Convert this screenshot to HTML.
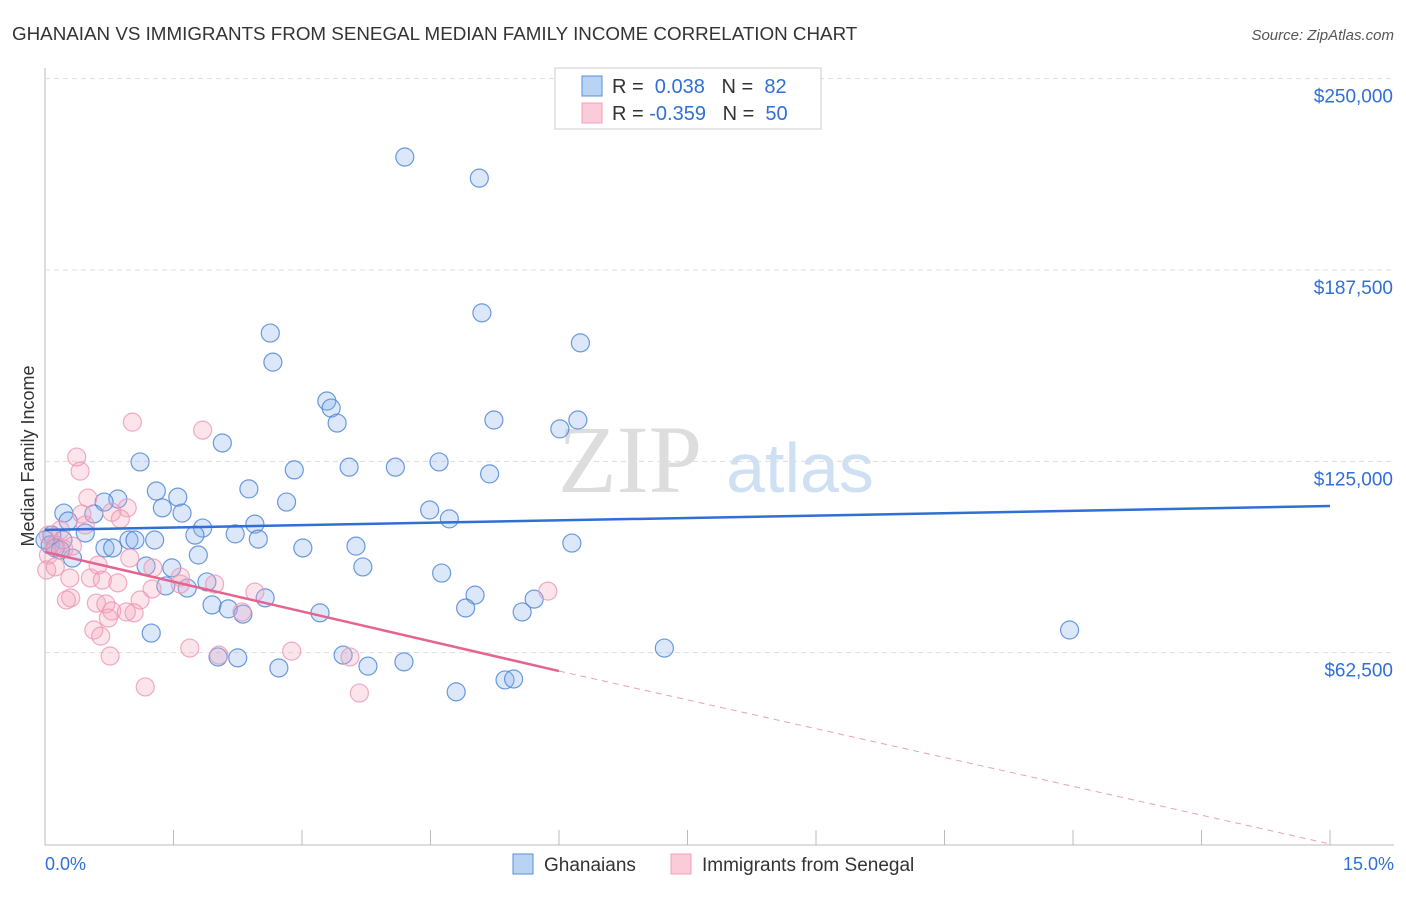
<!DOCTYPE html>
<html><head><meta charset="utf-8"><style>
body{margin:0;background:#fff;font-family:"Liberation Sans",sans-serif}
</style></head><body>
<svg width="1406" height="892" xmlns="http://www.w3.org/2000/svg" id="svg">
<text x="12" y="40" font-size="18.8" fill="#333">GHANAIAN VS IMMIGRANTS FROM SENEGAL MEDIAN FAMILY INCOME CORRELATION CHART</text>
<text x="1394" y="40" font-size="15" fill="#555" font-style="italic" text-anchor="end">Source: ZipAtlas.com</text>
<text x="630" y="492" font-size="96" fill="#ddd" font-family="Liberation Serif" text-anchor="middle">ZIP</text>
<text x="800" y="492" font-size="70" fill="#cfe0f3" text-anchor="middle">atlas</text>
<text x="34" y="456" font-size="18" fill="#333" transform="rotate(-90 34 456)" text-anchor="middle">Median Family Income</text>
<g id="grid"></g><g id="pts"></g><g id="lines"></g>
<g>
<rect x="555" y="68" width="266" height="61" fill="#fff" stroke="#ccc"/>
<rect x="582" y="76" width="20" height="20" fill="#b9d3f5" stroke="#5a8fd8"/>
<rect x="582" y="103" width="20" height="20" fill="#fbcbd9" stroke="#f0a0b8"/>
<text x="612" y="93" font-size="20" fill="#333">R = <tspan fill="#2f6fd6">&#160;0.038</tspan>&#160;&#160;&#160;N = <tspan fill="#2f6fd6">&#160;82</tspan></text>
<text x="612" y="120" font-size="20" fill="#333">R = <tspan fill="#2f6fd6">-0.359</tspan>&#160;&#160;&#160;N = <tspan fill="#2f6fd6">&#160;50</tspan></text>
</g>
<g>
<rect x="513" y="854" width="20" height="20" fill="#b9d3f5" stroke="#5a8fd8"/>
<text x="544" y="871" font-size="19" fill="#333">Ghanaians</text>
<rect x="671" y="854" width="20" height="20" fill="#fbcbd9" stroke="#f0a0b8"/>
<text x="702" y="871" font-size="19" fill="#333">Immigrants from Senegal</text>
</g>
<text x="45" y="870" font-size="18" fill="#2f6fd6">0.0%</text>
<text x="1394" y="870" font-size="18" fill="#2f6fd6" text-anchor="end">15.0%</text>
</svg>
<script>
const yTicks=[62500,125000,187500,250000];
const yTickLabels=["$62,500","$125,000","$187,500","$250,000"];
const blueX=[4.20,5.07,5.10,6.25,2.63,2.66,3.29,3.34,3.41,5.24,6.22,6.01,2.07,1.11,2.91,3.55,4.09,4.60,5.19,1.30,1.55,2.38,0.85,0.69,2.82,1.37,1.60,0.22,0.57,0.27,4.49,4.72,2.45,1.84,2.22,1.75,2.49,0.47,0.98,1.05,1.28,0.21,0.70,0.79,0.32,3.01,3.63,6.15,1.79,1.18,1.48,3.71,4.63,1.89,1.41,1.66,2.57,5.02,5.71,1.95,2.14,2.31,3.21,4.91,5.57,11.96,1.24,7.23,2.02,2.25,3.48,3.77,4.19,2.73,4.80,5.37,5.47,0.08,0.06,0.12,0.18,0.0];
const blueY=[224.4,217.5,173.5,163.7,166.9,157.4,144.7,142.4,137.5,138.5,138.5,135.6,131.0,124.8,122.2,123.1,123.1,124.8,120.9,115.3,113.3,116.0,112.7,111.7,111.7,109.8,108.1,108.1,107.8,105.5,109.1,106.2,104.5,103.2,101.3,100.9,99.6,101.6,99.3,99.3,99.3,99.3,96.7,96.7,93.4,96.7,97.3,98.3,94.4,90.8,90.2,90.5,88.5,85.6,84.3,83.6,80.4,81.3,80.0,78.1,76.8,75.1,75.5,77.1,75.8,69.9,68.9,64.0,61.1,60.8,61.7,58.1,59.5,57.5,49.7,53.6,53.9,100.9,97.7,96.7,96.0,99.3];
const pinkX=[1.02,1.84,0.37,0.41,0.50,0.96,0.78,0.43,0.88,0.47,0.18,0.04,0.12,0.22,0.32,0.04,0.02,0.12,0.29,0.53,0.62,0.67,0.85,0.99,1.26,1.25,1.58,1.98,2.45,0.30,0.25,0.60,0.71,1.11,0.78,0.95,1.04,0.74,0.57,0.65,2.30,1.69,2.03,2.88,3.56,0.76,1.17,3.67,5.87,1.58];
const pinkY=[137.8,135.2,126.4,121.8,113.0,109.8,108.4,107.8,106.2,104.2,102.6,100.9,97.7,96.4,97.3,94.4,89.5,90.5,86.9,86.9,91.1,86.2,85.3,93.4,90.2,83.3,84.9,84.9,82.3,80.4,79.7,78.7,78.4,79.7,76.1,75.8,75.5,73.8,69.9,67.9,75.8,64.0,61.7,63.0,61.1,61.4,51.3,49.3,82.6,87.2];
const blueTrend=[[0,102.6],[15,110.4]];
const pinkTrendSolid=[[0,95.4],[6.0,56.5]];
const pinkTrendDash=[[6.0,56.5],[15,0]];
const X=v=>45+v/15*1285, Y=v=>844-v*1000/187500*574;
const NS="http://www.w3.org/2000/svg";
function mk(t,a,p){const e=document.createElementNS(NS,t);for(const k in a)e.setAttribute(k,a[k]);p.appendChild(e);return e;}
const g=document.getElementById('grid');
const yAxis=mk('line',{x1:45,y1:68,x2:45,y2:845,stroke:'#bbb'},g);


const xAxis=mk('line',{x1:45,y1:845,x2:1394,y2:845,stroke:'#bbb'},g);


for(let i=1;i<=10;i++){const t=mk('line',{x1:X(i*1.5),y1:830,x2:X(i*1.5),y2:845,stroke:'#bbb'},g);

}
yTicks.forEach((v,i)=>{const y=Y(v/1000);
const l=mk('line',{x1:45,y1:y,x2:1394,y2:y,stroke:'#ddd','stroke-dasharray':'5,4'},g);


const t=mk('text',{x:1393,y:y+24,'font-size':19,fill:'#2f6fd6','text-anchor':'end'},g);t.textContent=yTickLabels[i];

});
const p=document.getElementById('pts');
blueX.forEach((x,i)=>{const c=mk('circle',{cx:X(x),cy:Y(blueY[i]),r:9,fill:'rgba(140,180,235,0.3)',stroke:'rgba(70,130,215,0.8)','stroke-width':1.2},p);

});
pinkX.forEach((x,i)=>{const c=mk('circle',{cx:X(x),cy:Y(pinkY[i]),r:9,fill:'rgba(245,165,190,0.3)',stroke:'rgba(238,150,180,0.8)','stroke-width':1.2},p);

});
const L=document.getElementById('lines');
function line(a,st,dash){const e=mk('line',{x1:X(a[0][0]),y1:Y(a[0][1]),x2:X(a[1][0]),y2:Y(a[1][1]),stroke:st,'stroke-width':dash?1:2.5},L);if(dash)e.setAttribute('stroke-dasharray','6,5');return e;}
const b=line(blueTrend,'#2f6fd6',false);


const ps=line(pinkTrendSolid,'#e5648f',false);


const pd=line(pinkTrendDash,'#e8a0b8',true);


</script>
</body></html>
